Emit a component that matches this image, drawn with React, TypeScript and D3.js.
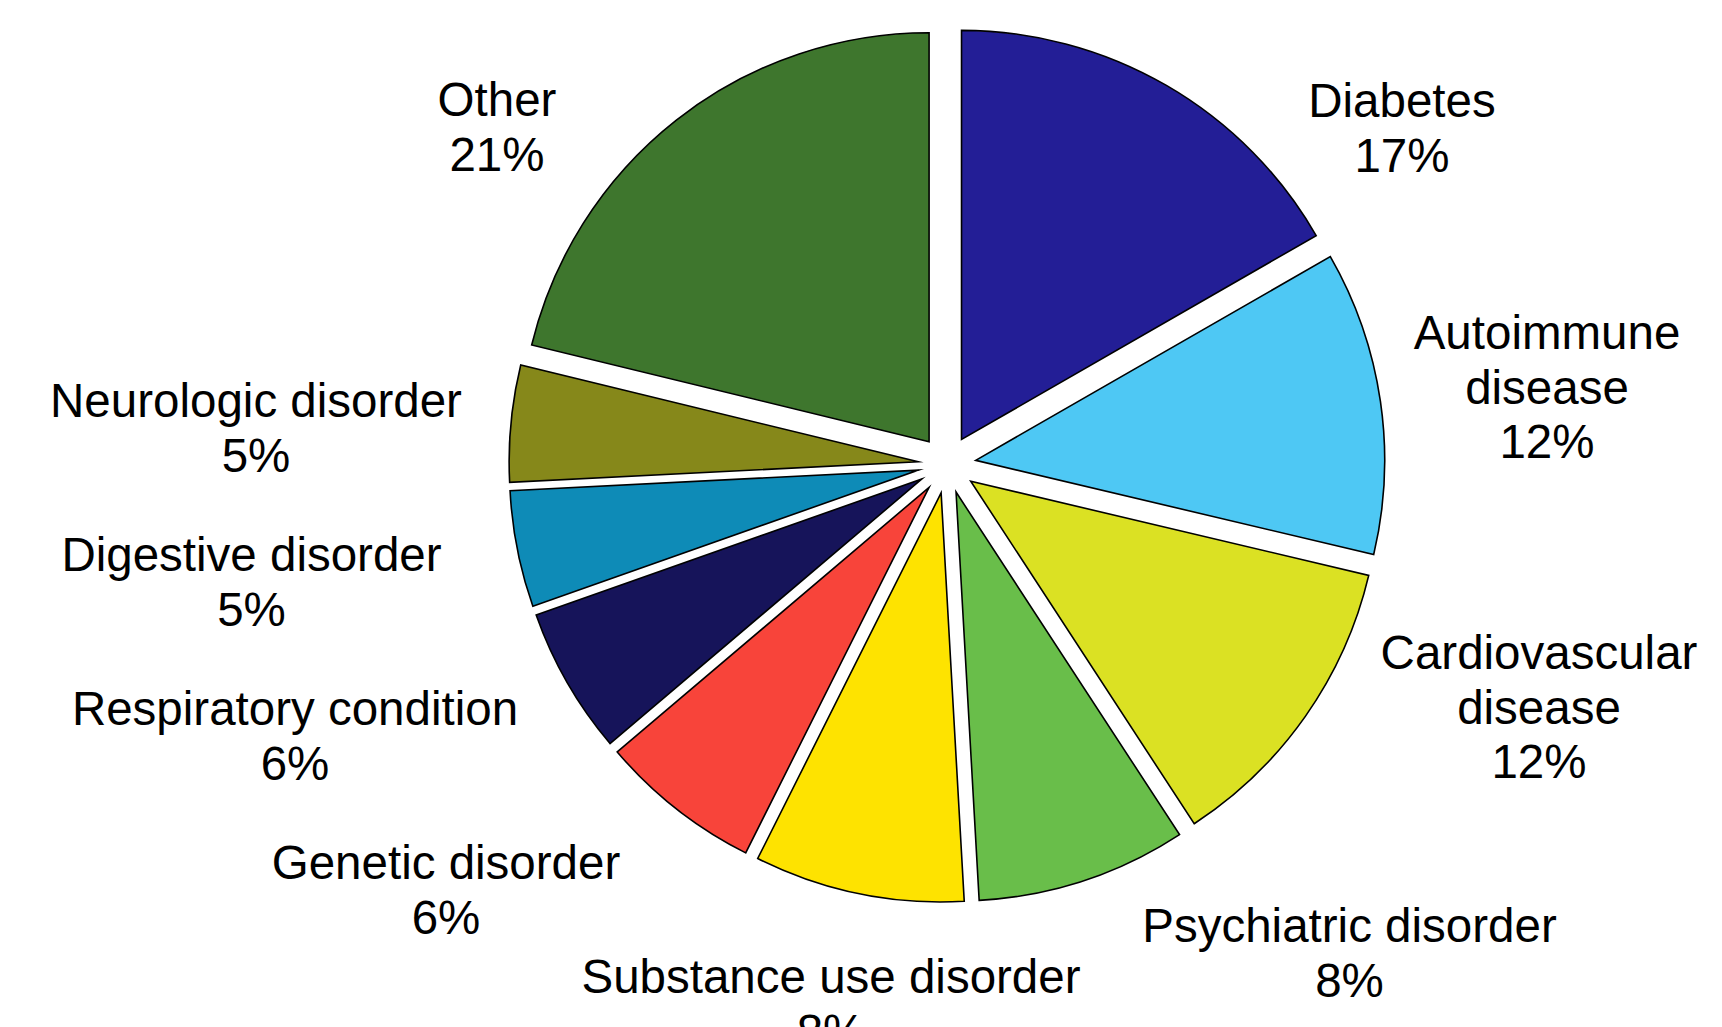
import React from "react";
import * as d3 from "d3";

// ---- data ----
const categories = [
  "Diabetes",
  "Autoimmune disease",
  "Cardiovascular disease",
  "Psychiatric disorder",
  "Substance use disorder",
  "Genetic disorder",
  "Respiratory condition",
  "Digestive disorder",
  "Neurologic disorder",
  "Other",
];
const shares = [16.7, 12.0, 12.1, 8.3, 8.3, 6.4, 5.8, 4.6, 4.6, 21.2];
const percentLabels = ["17%", "12%", "12%", "8%", "8%", "6%", "6%", "5%", "5%", "21%"];
// how each category name is broken into lines
const nameLines = [
  ["Diabetes"],
  ["Autoimmune", "disease"],
  ["Cardiovascular", "disease"],
  ["Psychiatric disorder"],
  ["Substance use disorder"],
  ["Genetic disorder"],
  ["Respiratory condition"],
  ["Digestive disorder"],
  ["Neurologic disorder"],
  ["Other"],
];

// ---- style / layout ----
const colors = [
  "#231E96",
  "#4EC8F4",
  "#DBE123",
  "#69BE4A",
  "#FEE300",
  "#F8443A",
  "#16145A",
  "#0E8BB7",
  "#86881A",
  "#3E762D",
];
const W = 1722;
const H = 1027;
const CX = 947;
const CY = 464.5;
const R = 409;
const EXPLODE = 29;
const FONT = 47.5;
const LINE_H = 54.5;
// first-line baseline anchor of each label (block centred horizontally)
const labelAnchors: [number, number][] = [
  [1402, 117],
  [1547, 349],
  [1539, 669],
  [1349.5, 942],
  [831, 993],
  [446, 879],
  [295, 725],
  [251.5, 571],
  [256, 417],
  [497, 116],
];

export default function App() {
  const pie = d3
    .pie<number>()
    .sort(null)
    .value((d) => d)
    .startAngle(0)
    .endAngle(2 * Math.PI);
  const arcs = pie(shares);
  const arc = d3.arc<d3.PieArcDatum<number>>().innerRadius(0).outerRadius(R);

  return (
    <svg
      width={W}
      height={H}
      style={{ position: "absolute", left: 0, top: 0, background: "#fff" }}
      fontFamily="'Liberation Sans', Arial, Helvetica, sans-serif"
    >
      <rect x={0} y={0} width={W} height={H} fill="#fff" />
      <g transform={`translate(${CX},${CY})`}>
        {arcs.map((a, i) => {
          const mid = (a.startAngle + a.endAngle) / 2;
          const dx = Math.sin(mid) * EXPLODE;
          const dy = -Math.cos(mid) * EXPLODE;
          return (
            <path
              key={categories[i]}
              d={arc(a) || ""}
              transform={`translate(${dx},${dy})`}
              fill={colors[i]}
              stroke="#000"
              strokeWidth={1.6}
              strokeLinejoin="miter"
              strokeMiterlimit={12}
            />
          );
        })}
      </g>
      {categories.map((c, i) => {
        const [x, y] = labelAnchors[i];
        const lines = [...nameLines[i], percentLabels[i]];
        return (
          <text key={c} x={x} y={y} textAnchor="middle" fontSize={FONT} fill="#000">
            {lines.map((l, j) => (
              <tspan key={j} x={x} y={y + j * LINE_H}>
                {l}
              </tspan>
            ))}
          </text>
        );
      })}
    </svg>
  );
}
